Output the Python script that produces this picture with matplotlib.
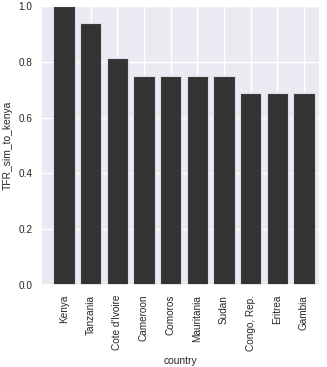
import matplotlib
matplotlib.use("Agg")
import matplotlib.pyplot as plt
import seaborn as sns

countries = ["Kenya", "Tanzania", "Cote d'Ivoire", "Cameroon", "Comoros",
             "Mauritania", "Sudan", "Congo, Rep.", "Eritrea", "Gambia"]
values = [1.0, 0.939, 0.814, 0.749, 0.749, 0.749, 0.749, 0.688, 0.688, 0.688]

sns.set_theme(style="darkgrid")
plt.rcParams['font.family'] = ['Liberation Sans', 'DejaVu Sans']

fig = plt.figure(figsize=(3.27, 3.67), dpi=100)
ax = fig.add_axes([41/327, 1 - 285/367, 279/327, 279/367])
x = list(range(len(countries)))
ax.bar(x, values, width=0.8, color="#333333", edgecolor="#dcdce4", linewidth=0.8)
ax.set_ylim(0, 1.0)
ax.set_xlim(-0.86, 9.6)
ax.set_xticks(x)
ax.set_xticklabels(countries, rotation=90, fontsize=7.2)
ax.set_yticks([0.0, 0.2, 0.4, 0.6, 0.8, 1.0])
ax.set_yticklabels(["0.0", "0.2", "0.4", "0.6", "0.8", "1.0"], fontsize=7.2)
ax.tick_params(axis='x', length=0, pad=7, colors="#262626")
ax.tick_params(axis='y', length=0, pad=6, colors="#262626")
ax.set_xlabel("country", fontsize=7.4, labelpad=4)
ax.set_ylabel("TFR_sim_to_kenya", fontsize=7.4, labelpad=4)
fig.savefig("out.png", dpi=100)
